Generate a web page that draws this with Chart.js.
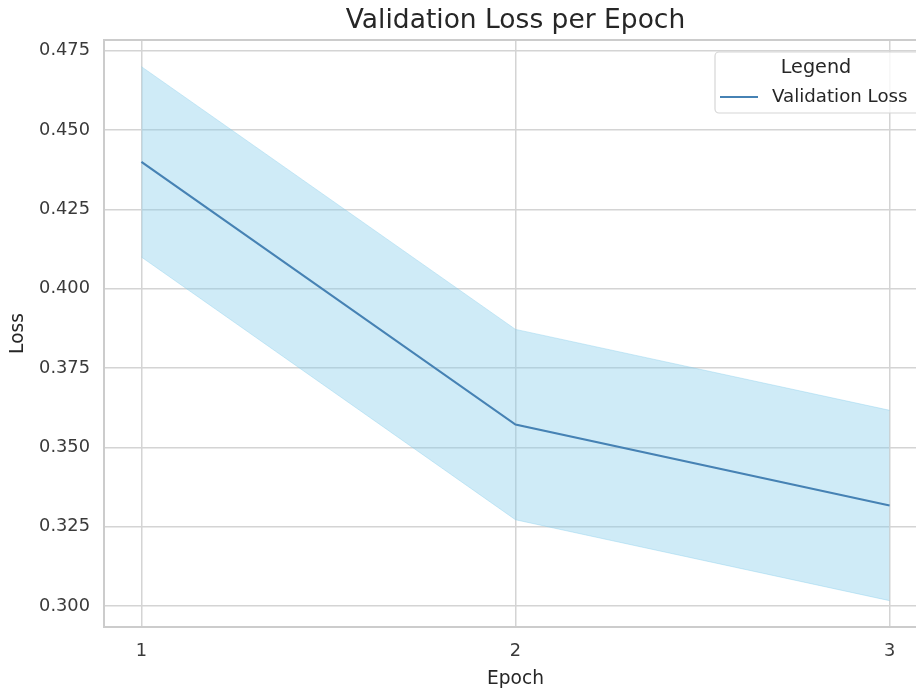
<!DOCTYPE html>
<html>
<head>
<meta charset="utf-8">
<script src="https://cdn.jsdelivr.net/npm/chart.js@4"></script>
<style>
  html, body { margin: 0; padding: 0; background: #fff; overflow: hidden; }
  #wrap { position: relative; width: 916px; height: 693px; overflow: hidden; }
  #chart { display: block; width: 940px; height: 693px; }
</style>
</head>
<body>
<div id="wrap"><canvas id="chart" width="940" height="693"></canvas></div>
<script>
// values
const epochs = [1, 2, 3]
const lossMean = [0.440, 0.3572, 0.3317]
const lossUpper = [0.470, 0.3872, 0.3617]
const lossLower = [0.410, 0.3272, 0.3017]
const xTicks = [1, 2, 3]
const yTicks = [0.300, 0.325, 0.350, 0.375, 0.400, 0.425, 0.450, 0.475]
const chartTitle = 'Validation Loss per Epoch'

const FONT = "'DejaVu Sans', sans-serif"
const bandColor = 'rgba(135, 206, 235, 0.4)'
const lineColor = '#4682b4'

function pts(ys) {
    return epochs.map((x, i) => ({ x: x, y: ys[i] }))
}

// title over the plot, frame round it, legend box in the upper right
const framePlugin = {
    id: 'frame',
    afterDatasetsDraw(chart) {
        let a = chart.chartArea
        let ctx = chart.ctx
        ctx.save()
        ctx.strokeStyle = '#cccccc'
        ctx.lineWidth = 2
        ctx.beginPath()
        ctx.moveTo(chart.width, a.top)
        ctx.lineTo(a.left, a.top)
        ctx.lineTo(a.left, a.bottom)
        ctx.lineTo(chart.width, a.bottom)
        ctx.stroke()
        ctx.restore()
    },
    afterDraw(chart) {
        let a = chart.chartArea
        let ctx = chart.ctx
        let ds = chart.data.datasets[0]
        ctx.save()

        ctx.fillStyle = '#262626'
        ctx.textBaseline = 'middle'
        ctx.textAlign = 'center'
        ctx.font = '26.5px ' + FONT
        ctx.fillText(chartTitle, (a.left + a.right) / 2, 21)

        let x = 715, y = 52, w = 206, h = 61
        ctx.beginPath()
        ctx.roundRect(x, y, w, h, 4)
        ctx.fillStyle = 'rgba(255,255,255,0.8)'
        ctx.fill()
        ctx.strokeStyle = '#d6d6d6'
        ctx.lineWidth = 1.2
        ctx.stroke()

        ctx.fillStyle = '#262626'
        ctx.textAlign = 'center'
        ctx.font = '19.2px ' + FONT
        ctx.fillText('Legend', 816, 68)

        ctx.strokeStyle = ds.borderColor
        ctx.lineWidth = ds.borderWidth
        ctx.beginPath()
        ctx.moveTo(720, 97)
        ctx.lineTo(758, 97)
        ctx.stroke()

        ctx.textAlign = 'left'
        ctx.font = '18.2px ' + FONT
        ctx.fillText(ds.label, 772, 97)
        ctx.restore()
    }
}

new Chart(document.getElementById('chart'), {
    type: 'line',
    data: {
        datasets: [
            {
                label: 'Validation Loss',
                data: pts(lossMean),
                borderColor: lineColor,
                borderWidth: 2.2,
                pointRadius: 0,
                fill: false,
                tension: 0
            },
            {
                label: 'upper',
                data: pts(lossUpper),
                borderColor: bandColor,
                backgroundColor: bandColor,
                borderWidth: 1,
                pointRadius: 0,
                fill: '+1'
            },
            {
                label: 'lower',
                data: pts(lossLower),
                borderColor: bandColor,
                borderWidth: 1,
                pointRadius: 0,
                fill: false
            }
        ]
    },
    options: {
        responsive: false,
        animation: false,
        devicePixelRatio: 1,
        layout: { padding: { left: 0, right: 13, top: 40, bottom: 0 } },
        plugins: {
            legend: { display: false },
            tooltip: { enabled: false },
            title: { display: false }
        },
        scales: {
            x: {
                type: 'linear',
                min: 0.9,
                max: 3.1,
                afterBuildTicks(scale) {
                    scale.ticks = xTicks.map(v => ({ value: v }))
                },
                afterFit(scale) { scale.height = 66 },
                grid: { color: '#d4d4d4', lineWidth: 1.5, drawTicks: false },
                border: { display: false },
                ticks: {
                    color: '#3a3a3a',
                    font: { family: FONT, size: 17.8 },
                    padding: 14,
                    maxRotation: 0,
                    callback: v => String(v)
                },
                title: {
                    display: true,
                    text: 'Epoch',
                    color: '#262626',
                    font: { family: FONT, size: 18.6 },
                    padding: { top: 0, bottom: 3 }
                }
            },
            y: {
                type: 'linear',
                min: 0.2934,
                max: 0.4784,
                afterBuildTicks(scale) {
                    scale.ticks = yTicks.map(v => ({ value: v }))
                },
                afterFit(scale) { scale.width = 104 },
                grid: { color: '#d4d4d4', lineWidth: 1.5, drawTicks: false },
                border: { display: false },
                ticks: {
                    color: '#3a3a3a',
                    font: { family: FONT, size: 17.8 },
                    padding: 14,
                    callback: v => Number(v).toFixed(3)
                },
                title: {
                    display: true,
                    text: 'Loss',
                    color: '#262626',
                    font: { family: FONT, size: 18.6 },
                    padding: { top: 7, bottom: 0 }
                }
            }
        }
    },
    plugins: [framePlugin]
})
</script>
</body>
</html>
